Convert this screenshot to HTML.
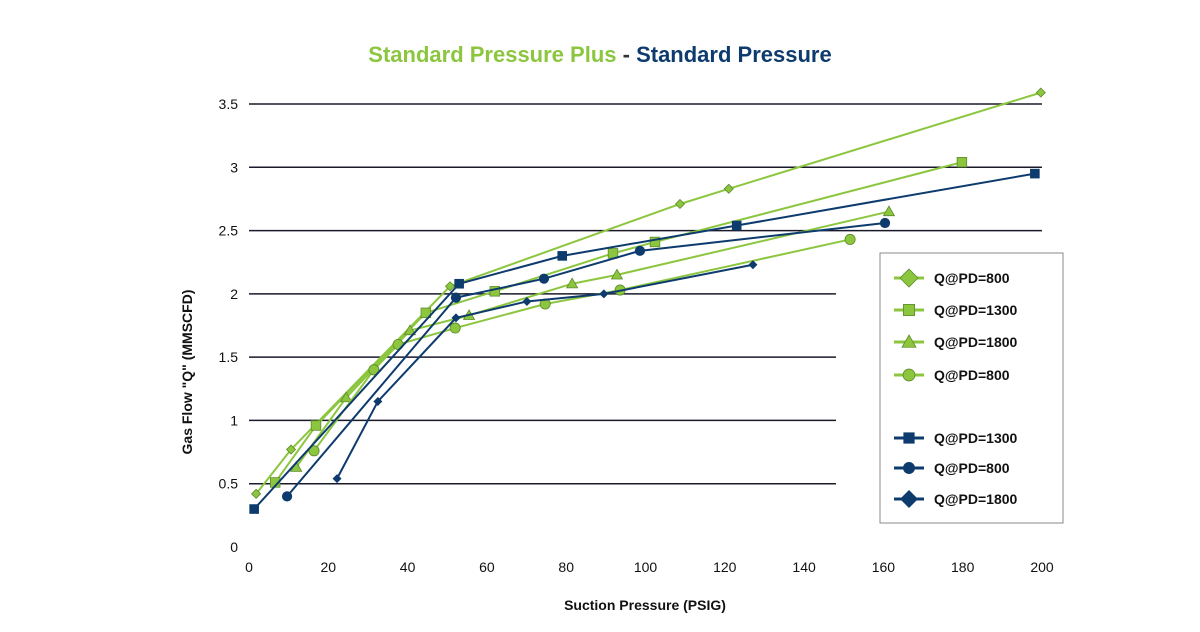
<!DOCTYPE html>
<html><head><meta charset="utf-8"><style>
body{margin:0;background:#fff;width:1200px;height:627px;overflow:hidden;font-family:"Liberation Sans",sans-serif}
</style></head><body>
<svg id="chart" width="1200" height="627" xmlns="http://www.w3.org/2000/svg" font-family="Liberation Sans, sans-serif">
<text x="600" y="62" text-anchor="middle" font-size="22" font-weight="bold"><tspan fill="#8cc63f">Standard Pressure Plus</tspan><tspan fill="#333"> - </tspan><tspan fill="#0d3b6e">Standard Pressure</tspan></text>
<g id="grid"></g><g id="ticks"></g><g id="series"></g>
<text x="645" y="610" text-anchor="middle" font-size="14" font-weight="bold" fill="#111">Suction Pressure (PSIG)</text>
<text transform="translate(192,372) rotate(-90)" text-anchor="middle" font-size="14" font-weight="bold" fill="#111">Gas Flow "Q" (MMSCFD)</text>
<g>
<rect x="880" y="253" width="183" height="270" fill="#fff" stroke="#888" stroke-width="1"/>
<g id="legend"></g></g>
</svg>
<script>
const xTicks=[0,20,40,60,80,100,120,140,160,180,200];
const yTicks=[0,0.5,1,1.5,2,2.5,3,3.5];
const yTickLabels=["0","0.5","1","1.5","2","2.5","3","3.5"];
const seriesNames=["Q@PD=800","Q@PD=1300","Q@PD=1800","Q@PD=800","Q@PD=1300","Q@PD=800","Q@PD=1800"];
const gdX=[1.8,10.6,50.7,108.7,121,199.7], gdY=[0.42,0.77,2.06,2.71,2.83,3.59];
const gsX=[6.6,16.9,44.6,62,91.8,102.4,179.8], gsY=[0.51,0.96,1.85,2.02,2.32,2.41,3.04];
const gtX=[11.9,24.5,40.6,55.5,81.5,92.8,161.4], gtY=[0.63,1.18,1.71,1.83,2.08,2.15,2.65];
const gcX=[16.4,31.5,37.6,52,74.7,93.6,151.6], gcY=[0.76,1.40,1.60,1.73,1.92,2.03,2.43];
const bsX=[1.3,53,79,123,198.2], bsY=[0.30,2.08,2.30,2.54,2.95];
const bcX=[9.6,52.2,74.4,98.6,160.4], bcY=[0.40,1.97,2.12,2.34,2.56];
const bdX=[22.2,32.5,52.2,70.1,89.5,127.1], bdY=[0.54,1.15,1.81,1.94,2.00,2.23];
const G="#8cc63f",B="#0d3b6e";
const sx=v=>249+v*(1042-249)/200, sy=v=>547-v*(547-104)/3.5;
const NS="http://www.w3.org/2000/svg";
function mk(t,a,p){const e=document.createElementNS(NS,t);for(const k in a)e.setAttribute(k,a[k]);p.appendChild(e);return e;}
const grid=document.getElementById('grid'),ticks=document.getElementById('ticks');
yTicks.forEach((v,i)=>{
 if(v>0){const l=mk('line',{x1:249,x2:v<=2?836:1042,y1:sy(v),y2:sy(v),stroke:'#1a1a2a','stroke-width':1.5},grid);
 
 }
 const t=mk('text',{x:238,y:sy(v)+5,'text-anchor':'end','font-size':14,fill:'#111'},ticks);t.textContent=yTickLabels[i];
 
 
});
xTicks.forEach(v=>{const t=mk('text',{x:sx(v),y:572,'text-anchor':'middle','font-size':14,fill:'#111'},ticks);t.textContent=v;
 
 });
function marker(p,shape,x,y,c,s){
 let e;
 if(shape==='diamond')e=mk('polygon',{points:`${x},${y-s} ${x+s},${y} ${x},${y+s} ${x-s},${y}`},p);
 else if(shape==='square')e=mk('rect',{x:x-s*0.8,y:y-s*0.8,width:s*1.6,height:s*1.6},p);
 else if(shape==='triangle')e=mk('polygon',{points:`${x},${y-s} ${x+s},${y+s*0.75} ${x-s},${y+s*0.75}`},p);
 else e=mk('circle',{cx:x,cy:y,r:s*0.85},p);
 e.setAttribute('fill',c);if(c===G){e.setAttribute('stroke','#5d8a2a');e.setAttribute('stroke-width',0.8);}
 return e;}
const defs=[[gdX,gdY,'diamond',G,4.5],[gsX,gsY,'square',G,6],[gtX,gtY,'triangle',G,5.5],[gcX,gcY,'circle',G,6],[bsX,bsY,'square',B,6],[bcX,bcY,'circle',B,6],[bdX,bdY,'diamond',B,4.5]];
const ser=document.getElementById('series');
defs.forEach((d,i)=>{
 const g=mk('g',{},ser);
 
 
 mk('polyline',{points:d[0].map((x,j)=>sx(x)+','+sy(d[1][j])).join(' '),fill:'none',stroke:d[3],'stroke-width':2},g);
 d[0].forEach((x,j)=>{const m=marker(g,d[2],sx(x),sy(d[1][j]),d[3],d[4]);
  
  });
});
const leg=document.getElementById('legend');
const ly=[278,310,342,375,438,468,499];
defs.forEach((d,i)=>{
 const g=mk('g',{},leg);
 
 
 mk('line',{x1:894,x2:924,y1:ly[i],y2:ly[i],stroke:d[3],'stroke-width':3},g);
 marker(g,d[2],909,ly[i],d[3],d[2]==='diamond'?9:7);
 const t=mk('text',{x:934,y:ly[i]+5,'font-size':14,'font-weight':'bold',fill:'#111'},g);t.textContent=seriesNames[i];
});
</script>
</body></html>
